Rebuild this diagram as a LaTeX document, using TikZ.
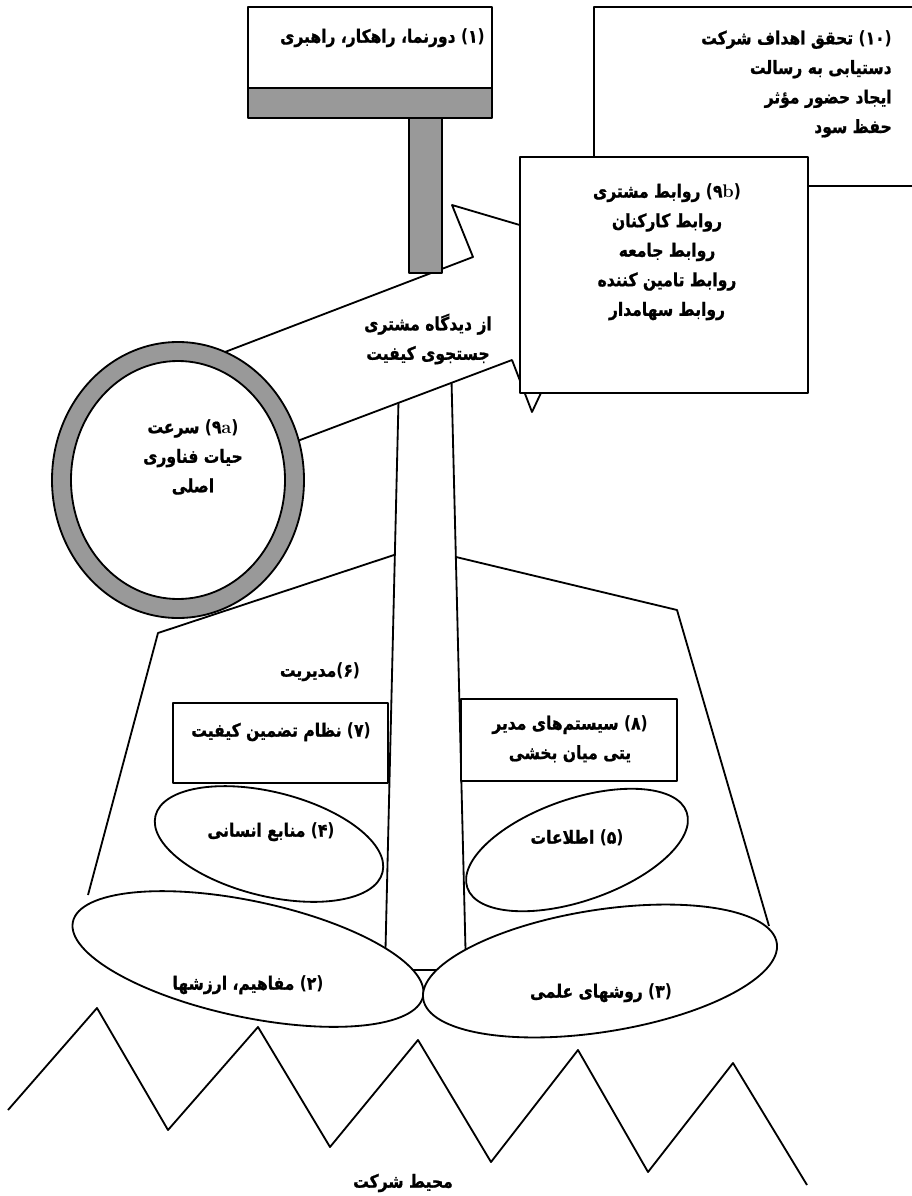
\documentclass[tikz,border=0pt]{standalone}
\usepackage{fontspec}
\usepackage{tikz}
\newfontfamily\fa[Script=Arabic, FakeStretch=0.85, BoldFeatures={FakeBold=1}]{DejaVu Sans}
\newfontfamily\dvs[FakeStretch=0.85]{DejaVu Sans}
\TeXXeTstate=1
\definecolor{poleGray}{RGB}{153,153,153}
\newcommand{\rl}[1]{\beginR #1\endR}
\newcommand{\lat}[1]{{\rmfamily\bfseries #1}}
\newcommand{\pnum}[1]{\beginL{\dvs(}{\fa #1}{\dvs)}\endL}
\tikzset{
  outline/.style={line width=1.3pt, line join=round},
  fatext/.style={font=\fa\bfseries\fontsize{13}{21}\selectfont, align=center, inner sep=0pt},
}

\begin{document}
\begin{tikzpicture}[x=0.025cm,y=-0.025cm]
  \useasboundingbox (0,0) rectangle (912,1196);
  % goals box, runs off the right edge
  \draw[outline] (914,7) -- (594,7) -- (594,186) -- (914,186);
  % vision board on its pole
  \draw[outline, fill=white] (248,7) rectangle (492,88);
  \draw[outline, fill=poleGray] (248,88) rectangle (492,118);
  % lamp shade and trunk
  \draw[outline] (394,555) -- (158,633) -- (88,895);
  \draw[outline] (456,557) -- (677,610) -- (769,926);
  \draw[outline, fill=white] (399,380) -- (385,970) -- (466,970) -- (451,360);
  % speech band from the ring to the relations box
  \draw[outline, fill=white] (178,480) -- (225,352) -- (473,257) -- (452,205) -- (540,231)
    -- (560,300) -- (548,378) -- (532,412) -- (512,360) -- (300,440) -- cycle;
  \draw[outline, fill=poleGray] (409,118) rectangle (442,273);
  % ring
  \draw[outline, fill=poleGray] (178,480) ellipse (126 and 138);
  \draw[outline, fill=white] (178,480) ellipse (107 and 119);
  % boxes
  \draw[outline, fill=white] (520,157) rectangle (808,393);
  \draw[outline, fill=white] (173,703) rectangle (388,783);
  \draw[outline, fill=white] (461,699) rectangle (677,781);
  % ellipses
  \draw[outline, fill=white, rotate around={-14:(269,844)}] (269,844) ellipse (117 and 52);
  \draw[outline, fill=white, rotate around={19:(577,850)}] (577,850) ellipse (116 and 51);
  \draw[outline, fill=white, rotate around={-12:(248,959)}] (248,959) ellipse (179 and 58);
  \draw[outline, fill=white, rotate around={9:(600,971)}] (600,971) ellipse (179 and 61);
  % ground
  \draw[outline] (8,1110) -- (97,1008) -- (168,1130) -- (258,1027) -- (330,1147) -- (418,1040)
    -- (491,1162) -- (578,1050) -- (648,1172) -- (733,1063) -- (807,1185);

  \node[fatext, anchor=east] (vision) at (485,38) {\rl{\pnum{۱} دورنما، راهکار، راهبری}};
  \node[fatext, align=right, anchor=east] (goals) at (892,84)
    {\rl{\pnum{۱{}۰} تحقق اهداف شرکت}\\ \rl{دستیابی به رسالت}\\ \rl{ایجاد حضور مؤثر}\\ \rl{حفظ سود}};
  \node[fatext] (relations) at (667,252)
    {\rl{\pnum{۹\lat{b}} روابط مشتری}\\ \rl{روابط کارکنان}\\ \rl{روابط جامعه}\\ \rl{روابط تامین کننده}\\ \rl{روابط سهامدار}};
  \node[fatext] (speed) at (193,457) {\rl{\pnum{۹\lat{a}} سرعت}\\ \rl{حیات فناوری}\\ \rl{اصلی}};
  \node[fatext] (quest) at (428,339) {\rl{از دیدگاه مشتری}\\ \rl{جستجوی کیفیت}};
  \node[fatext] (mgmt) at (320,672) {\rl{\pnum{۶}مدیریت}};
  \node[fatext] (qa) at (281,732) {\rl{\pnum{۷} نظام تضمین کیفیت}};
  \node[fatext] (systems) at (570,739) {\rl{\pnum{۸} سیستم‌های مدیر}\\ \rl{یتی میان بخشی}};
  \node[fatext] (hr) at (271,832) {\rl{\pnum{۴} منابع انسانی}};
  \node[fatext] (info) at (577,838) {\rl{\pnum{۵} اطلاعات}};
  \node[fatext] (values) at (248,985) {\rl{\pnum{۲} مفاهیم، ارزشها}};
  \node[fatext] (methods) at (601,993) {\rl{\pnum{۳} روشهای علمی}};
  \node[fatext] (env) at (403,1183) {\rl{محیط شرکت}};
\end{tikzpicture}
\end{document}
